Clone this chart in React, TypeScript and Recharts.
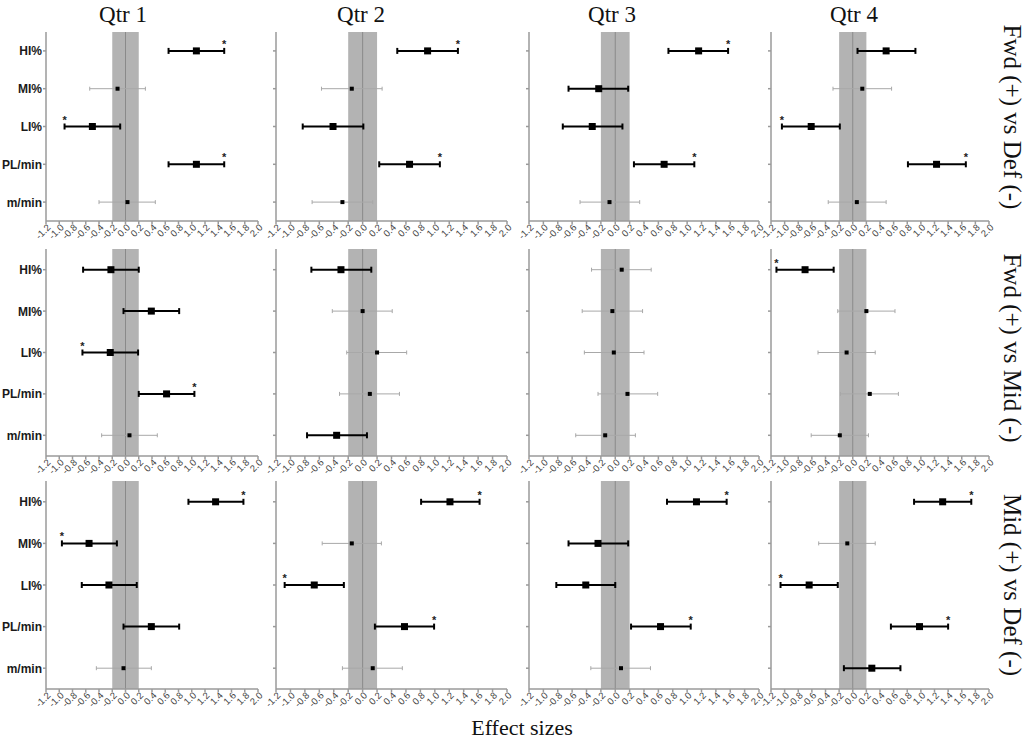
import React from 'react';
import { ScatterChart, Scatter, XAxis, YAxis, ErrorBar, ReferenceArea, ReferenceLine } from 'recharts';

const metrics = ['HI%', 'MI%', 'LI%', 'PL/min', 'm/min'];
const quarters = ['Qtr 1', 'Qtr 2', 'Qtr 3', 'Qtr 4'];
const comparisons = ['Fwd (+) vs Def (-)', 'Fwd (+) vs Mid (-)', 'Mid (+) vs Def (-)'];
const xTicks = [-1.2, -1.0, -0.8, -0.6, -0.4, -0.2, 0.0, 0.2, 0.4, 0.6, 0.8, 1.0, 1.2, 1.4, 1.6, 1.8, 2.0];

// [lower CI, effect size, upper CI] for each metric, in the order of `metrics`
const fwdDefQ1 = [[0.65, 1.07, 1.49], [-0.54, -0.12, 0.30], [-0.92, -0.50, -0.08], [0.65, 1.07, 1.49], [-0.40, 0.03, 0.45]];
const fwdDefQ2 = [[0.48, 0.90, 1.32], [-0.57, -0.15, 0.27], [-0.83, -0.41, 0.01], [0.23, 0.65, 1.07], [-0.70, -0.28, 0.14]];
const fwdDefQ3 = [[0.74, 1.16, 1.57], [-0.65, -0.23, 0.18], [-0.73, -0.32, 0.10], [0.26, 0.68, 1.10], [-0.49, -0.08, 0.34]];
const fwdDefQ4 = [[0.07, 0.49, 0.92], [-0.29, 0.14, 0.57], [-1.04, -0.61, -0.19], [0.81, 1.23, 1.66], [-0.36, 0.06, 0.49]];

const fwdMidQ1 = [[-0.64, -0.22, 0.20], [-0.03, 0.39, 0.81], [-0.65, -0.23, 0.19], [0.20, 0.62, 1.04], [-0.36, 0.06, 0.48]];
const fwdMidQ2 = [[-0.71, -0.30, 0.12], [-0.42, 0.0, 0.41], [-0.22, 0.20, 0.61], [-0.32, 0.10, 0.51], [-0.77, -0.36, 0.06]];
const fwdMidQ3 = [[-0.33, 0.09, 0.50], [-0.46, -0.04, 0.38], [-0.43, -0.02, 0.40], [-0.24, 0.17, 0.59], [-0.55, -0.14, 0.28]];
const fwdMidQ4 = [[-1.12, -0.70, -0.28], [-0.22, 0.20, 0.62], [-0.51, -0.09, 0.33], [-0.18, 0.25, 0.67], [-0.61, -0.19, 0.23]];

const midDefQ1 = [[0.95, 1.36, 1.78], [-0.96, -0.55, -0.13], [-0.66, -0.25, 0.17], [-0.03, 0.39, 0.81], [-0.44, -0.03, 0.39]];
const midDefQ2 = [[0.81, 1.21, 1.62], [-0.56, -0.15, 0.26], [-1.08, -0.67, -0.26], [0.17, 0.58, 0.99], [-0.28, 0.14, 0.55]];
const midDefQ3 = [[0.72, 1.13, 1.55], [-0.65, -0.24, 0.18], [-0.82, -0.41, 0.0], [0.22, 0.63, 1.05], [-0.34, 0.08, 0.49]];
const midDefQ4 = [[0.90, 1.32, 1.74], [-0.50, -0.08, 0.33], [-1.06, -0.64, -0.22], [0.56, 0.98, 1.40], [-0.13, 0.28, 0.70]];

// 2 = clear effect marked with *, 1 = clear effect, 0 = unclear
const fwdDefQ1Sig = [2, 0, 2, 2, 0];
const fwdDefQ2Sig = [2, 0, 1, 2, 0];
const fwdDefQ3Sig = [2, 1, 1, 2, 0];
const fwdDefQ4Sig = [1, 0, 2, 2, 0];
const fwdMidQ1Sig = [1, 1, 2, 2, 0];
const fwdMidQ2Sig = [1, 0, 0, 0, 1];
const fwdMidQ3Sig = [0, 0, 0, 0, 0];
const fwdMidQ4Sig = [2, 0, 0, 0, 0];
const midDefQ1Sig = [2, 2, 1, 1, 0];
const midDefQ2Sig = [2, 0, 2, 2, 0];
const midDefQ3Sig = [2, 1, 1, 2, 0];
const midDefQ4Sig = [2, 0, 2, 2, 1];

const panelCi = [
  [fwdDefQ1, fwdDefQ2, fwdDefQ3, fwdDefQ4],
  [fwdMidQ1, fwdMidQ2, fwdMidQ3, fwdMidQ4],
  [midDefQ1, midDefQ2, midDefQ3, midDefQ4],
];
const panelSig = [
  [fwdDefQ1Sig, fwdDefQ2Sig, fwdDefQ3Sig, fwdDefQ4Sig],
  [fwdMidQ1Sig, fwdMidQ2Sig, fwdMidQ3Sig, fwdMidQ4Sig],
  [midDefQ1Sig, midDefQ2Sig, midDefQ3Sig, midDefQ4Sig],
];

// layout of the grid
const cols = [
  { plotLeft: 46, plotW: 212, yW: 46 },
  { plotLeft: 276, plotW: 231, yW: 8 },
  { plotLeft: 529, plotW: 230, yW: 8 },
  { plotLeft: 771, plotW: 218, yW: 8 },
];
const rowsLayout = [
  { top: 32, plotH: 189 },
  { top: 249, plotH: 207 },
  { top: 481, plotH: 208 },
];
const X_AXIS_H = 32;
const PAD_L = 10;
const PAD_R = 10;
const titleX = [123, 361, 612, 854];
const sideY = [117, 348, 585];

const SANS = '"Liberation Sans", Arial, sans-serif';
const SERIF = '"Liberation Serif", "Times New Roman", serif';

function buildRows(ci: number[][], sig: number[]) {
  return metrics.map((name, i) => {
    const [lo, es, hi] = ci[i];
    const err = [es - lo, hi - es];
    return {
      name,
      x: es,
      sig: sig[i],
      errB: sig[i] > 0 ? err : undefined,
      errT: sig[i] > 0 ? undefined : err,
      starX: es > 0 ? hi : lo,
    };
  });
}

const XTick = (props: any) => {
  const { x, y, payload } = props;
  return (
    <text
      x={x + 3}
      y={y}
      dy={3}
      transform={`rotate(-45 ${x + 3} ${y})`}
      textAnchor="end"
      fontSize={9.5}
      fill="#444"
      fontFamily={SANS}
    >
      {Number(payload.value).toFixed(1)}
    </text>
  );
};

const YTickLabel = (props: any) => {
  const { x, y, payload } = props;
  return (
    <text x={x} y={y} dy={4.5} textAnchor="end" fontSize={12} fontWeight="bold" fill="#1a1a1a" fontFamily={SANS}>
      {payload.value}
    </text>
  );
};

const NoTick = () => <g />;

const Marker = (props: any) => {
  const { cx, cy, payload } = props;
  if (cx == null || cy == null) return <g />;
  const s = payload.sig > 0 ? 7 : 4;
  return <rect x={cx - s / 2} y={cy - s / 2} width={s} height={s} fill="#000" />;
};

const StarMark = (props: any) => {
  const { cx, cy } = props;
  if (cx == null || cy == null) return <g />;
  return (
    <text x={cx} y={cy - 3} textAnchor="middle" fontSize={11} fontWeight="bold" fill="#222" fontFamily={SANS}>
      *
    </text>
  );
};

function Panel({ row, col }: { row: number; col: number }) {
  const c = cols[col];
  const r = rowsLayout[row];
  const data = buildRows(panelCi[row][col], panelSig[row][col]);
  const starData = data.filter((d) => d.sig === 2).map((d) => ({ name: d.name, x: d.starX }));
  return (
    <div style={{ position: 'absolute', left: c.plotLeft - c.yW - PAD_L, top: r.top }}>
      <ScatterChart
        width={c.plotW + c.yW + PAD_L + PAD_R}
        height={r.plotH + X_AXIS_H}
        margin={{ top: 0, right: PAD_R, bottom: 0, left: PAD_L }}
      >
        <XAxis
          type="number"
          dataKey="x"
          domain={[-1.2, 2.0]}
          allowDataOverflow
          ticks={xTicks}
          interval={0}
          height={X_AXIS_H}
          tick={<XTick />}
          tickSize={3}
          tickMargin={2}
          stroke="#9a9a9a"
          strokeWidth={1.5}
        />
        <YAxis
          type="category"
          dataKey="name"
          allowDuplicatedCategory={false}
          reversed
          width={c.yW}
          tick={col === 0 ? <YTickLabel /> : <NoTick />}
          tickSize={3}
          tickMargin={1}
          stroke="#9a9a9a"
          strokeWidth={1.5}
        />
        <ReferenceArea x1={-0.2} x2={0.2} fill="#b3b3b3" fillOpacity={1} stroke="none" />
        <ReferenceLine x={0} stroke="#8a8a8a" strokeWidth={1} />
        <Scatter data={data} shape={<Marker />} isAnimationActive={false}>
          <ErrorBar dataKey="errT" direction="x" width={2} stroke="#a8a8a8" strokeWidth={1} isAnimationActive={false} />
          <ErrorBar dataKey="errB" direction="x" width={3} stroke="#000" strokeWidth={2} isAnimationActive={false} />
        </Scatter>
        <Scatter data={starData} shape={<StarMark />} isAnimationActive={false} />
      </ScatterChart>
    </div>
  );
}

export default function App() {
  return (
    <div style={{ position: 'absolute', left: 0, top: 0, width: 1026, height: 740, background: '#fff', fontFamily: SANS }}>
      {rowsLayout.map((_, row) => cols.map((__, col) => <Panel key={`${row}-${col}`} row={row} col={col} />))}
      <svg width={1026} height={740} style={{ position: 'absolute', left: 0, top: 0, pointerEvents: 'none' }}>
        {quarters.map((q, i) => (
          <text key={q} x={titleX[i]} y={22} textAnchor="middle" fontSize={23} fontFamily={SERIF} fill="#111">
            {q}
          </text>
        ))}
        {comparisons.map((t, i) => (
          <text
            key={t}
            x={1004}
            y={sideY[i]}
            transform={`rotate(90 1004 ${sideY[i]})`}
            textAnchor="middle"
            fontSize={25}
            fontFamily={SERIF}
            fill="#111"
          >
            {t}
          </text>
        ))}
        <text x={522} y={735} textAnchor="middle" fontSize={22} fontFamily={SERIF} fill="#111">
          Effect sizes
        </text>
      </svg>
    </div>
  );
}
